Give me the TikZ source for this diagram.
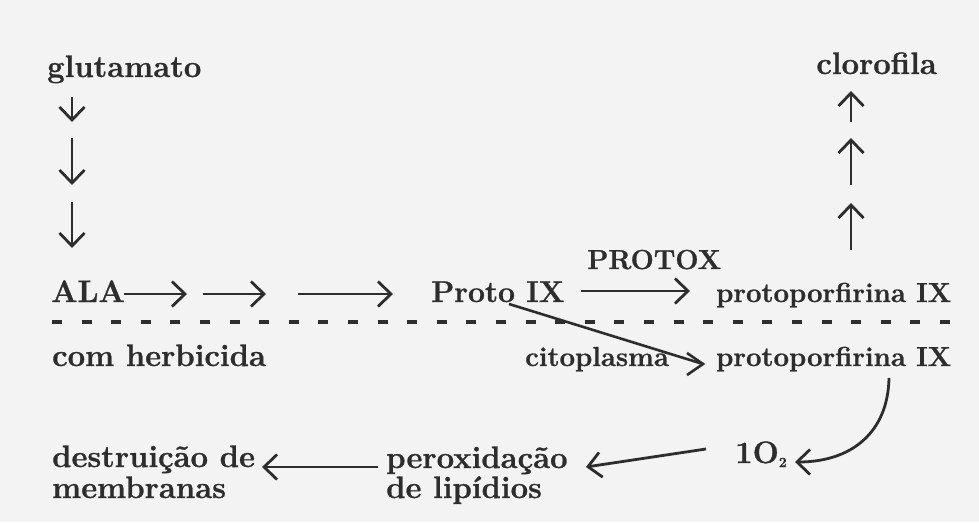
\documentclass[tikz,border=0pt]{standalone}
\usepackage{fontspec}
\setmainfont{Latin Modern Roman}[BoldFeatures={FakeBold=0.9}]
\usetikzlibrary{arrows.meta}
\definecolor{paper}{RGB}{243,243,243}
\definecolor{ink}{RGB}{45,45,45}
\begin{document}
\begin{tikzpicture}[x=1pt,y=-1pt,
  lbl/.style={inner sep=0pt, text=ink, font=\bfseries\fontsize{31}{31}\selectfont},
  rlbl/.style={lbl, font=\bfseries\fontsize{27.5}{28}\selectfont},
  arr/.style={draw=ink, line width=2.8pt, -{Straight Barb[length=13pt,width=25pt]}},
  con/.style={draw=ink, line width=2.6pt},
  dashline/.style={draw=ink, line width=4pt, dash pattern=on 10pt off 19.6pt}
]
\fill[paper] (0,0) rectangle (979,522);
\useasboundingbox (0,0) rectangle (979,522);

% labels
\node[lbl, anchor=base west] (glu) at (47,77) {glutamato};
\node[lbl, anchor=base east] (clo) at (937,74) {clorofila};
\node[lbl, anchor=base west] (ala) at (51,302) {ALA};
\node[lbl, font=\bfseries\fontsize{30}{30}\selectfont, anchor=base west] (proto) at (431,302) {Proto IX};
\node[rlbl, anchor=base west] (protox) at (587,269) {PROTOX};
\node[rlbl, anchor=base west] (pp1) at (716,302) {protoporfirina IX};
\node[lbl, anchor=base west] (herb) at (52,366) {com herbicida};
\node[rlbl, anchor=base west] (cito) at (525,366) {citoplasma};
\node[rlbl, anchor=base west] (pp2) at (716,366) {protoporfirina IX};
\node[lbl, anchor=base west] (o2) at (735,463) {1O\raisebox{-4pt}{\fontsize{14}{14}\selectfont 2}};
\node[lbl, anchor=base west] (perox) at (386,468) {peroxidação};
\node[lbl, anchor=base west] (lip) at (386,498) {de lipídios};
\node[lbl, anchor=base west] (destr) at (52,467) {destruição de};
\node[lbl, anchor=base west] (memb) at (52,498) {membranas};

% down arrows (glutamato -> ALA)
\coordinate (d1a) at (72,97);  \coordinate (d1b) at (72,122);
\coordinate (d2a) at (72,138); \coordinate (d2b) at (72,185);
\coordinate (d3a) at (72,202); \coordinate (d3b) at (72,248);
\draw[arr] (d1a) -- (d1b);
\draw[arr] (d2a) -- (d2b);
\draw[arr] (d3a) -- (d3b);

% up arrows (protoporfirina IX -> clorofila)
\coordinate (u1a) at (851,122); \coordinate (u1b) at (851,91);
\coordinate (u2a) at (851,185); \coordinate (u2b) at (851,138);
\coordinate (u3a) at (851,250); \coordinate (u3b) at (851,203);
\draw[arr] (u1a) -- (u1b);
\draw[arr] (u2a) -- (u2b);
\draw[arr] (u3a) -- (u3b);

% ALA -> -> -> Proto IX
\coordinate (h1a) at (124,294); \coordinate (h1b) at (187,294);
\coordinate (h2a) at (203,294); \coordinate (h2b) at (266,294);
\coordinate (h3a) at (298,294); \coordinate (h3b) at (393,294);
\draw[arr] (h1a) -- (h1b);
\draw[arr] (h2a) -- (h2b);
\draw[arr] (h3a) -- (h3b);

% PROTOX arrow
\coordinate (pa) at (581,291); \coordinate (pb) at (690,291);
\draw[arr] (pa) -- (pb);

% dashed separator
\coordinate (sa) at (52,322); \coordinate (sb) at (950,322);
\draw[dashline] (sa) -- (sb);

% Proto IX -> citoplasma protoporfirina IX
\coordinate (dga) at (509,304); \coordinate (dgt) at (703,364);
\draw[con] (dga) -- (dgt);
\draw[con, line join=miter] ([shift={(-16,-11)}]dgt) -- (dgt) -- ([shift={(-16,11)}]dgt);

% protoporfirina IX -> 1O2
\coordinate (ca) at (889,378); \coordinate (cb) at (795,462);
\draw[arr] (ca) .. controls (888,432) and (852,462) .. (cb);

% 1O2 -> peroxidacao
\coordinate (oa) at (706,449); \coordinate (ob) at (586,467);
\draw[arr] (oa) -- (ob);

% peroxidacao -> destruicao
\coordinate (ra) at (378,467); \coordinate (rb) at (262,467);
\draw[arr] (ra) -- (rb);
\end{tikzpicture}
\end{document}
